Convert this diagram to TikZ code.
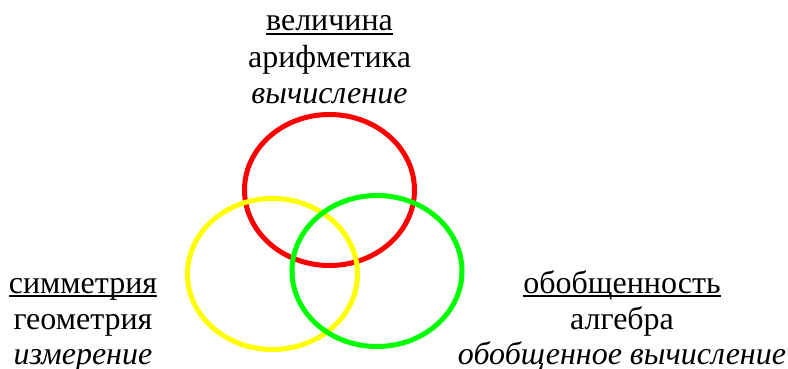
\documentclass[tikz,border=0pt]{standalone}
\usepackage{fontspec}
\setmainfont{Liberation Serif}
\begin{document}
\begin{tikzpicture}[x=1pt,y=-1pt,
  txt/.style={inner sep=0pt, anchor=base, font=\fontsize{32}{36}\selectfont},
  itxt/.style={txt, font=\fontsize{32}{36}\selectfont\itshape},
  ring/.style={line width=5pt},
  uline/.style={line width=1.8pt, line cap=butt}]
\useasboundingbox (0,0) rectangle (788,369);
\definecolor{vred}{RGB}{255,0,0}
\definecolor{vyellow}{RGB}{255,255,0}
\definecolor{vgreen}{RGB}{0,255,0}
\draw[ring, vred] (329.5,190) ellipse [x radius=85pt, y radius=75.5pt];
\draw[ring, vyellow] (272.5,274) ellipse [x radius=85pt, y radius=75.5pt];
\draw[ring, vgreen] (377,271) ellipse [x radius=85pt, y radius=75.5pt];
% top
\node[txt] (t1) at (329.5,31) {величина};
\node[txt] (t2) at (329.5,67.5) {арифметика};
\node[itxt] (t3) at (329.5,103) {вычисление};
\draw[uline] ([yshift=-3pt]t1.base west) -- ([yshift=-3pt]t1.base east);
% left
\node[txt] (l1) at (83,293) {симметрия};
\node[txt] (l2) at (83,329.5) {геометрия};
\node[itxt] (l3) at (83,364.5) {измерение};
\draw[uline] ([yshift=-3pt]l1.base west) -- ([yshift=-3pt]l1.base east);
% right
\node[txt] (r1) at (622,293) {обобщенность};
\node[txt] (r2) at (622,329.5) {алгебра};
\node[itxt] (r3) at (622,364.5) {обобщенное вычисление};
\draw[uline] ([yshift=-3pt]r1.base west) -- ([yshift=-3pt]r1.base east);
\end{tikzpicture}
\end{document}
